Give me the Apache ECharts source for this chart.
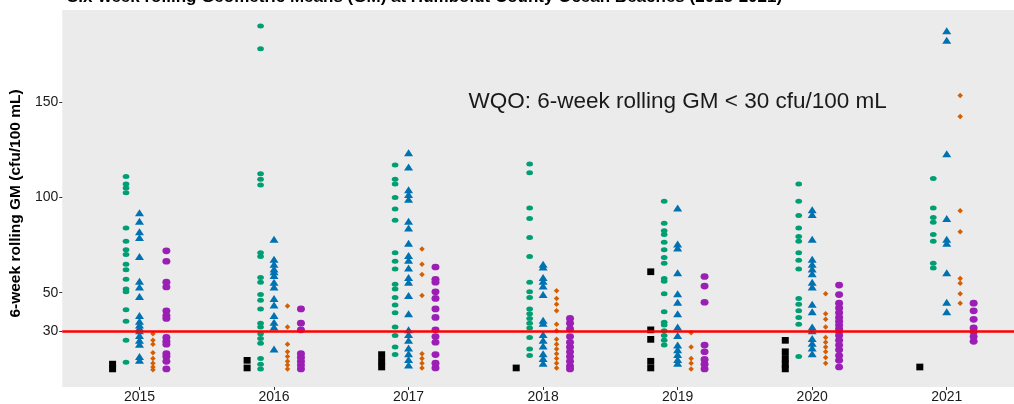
<!DOCTYPE html>
<html>
<head>
<meta charset="utf-8">
<script src="https://cdn.jsdelivr.net/npm/echarts@6/dist/echarts.min.js"></script>
<style>html,body{margin:0;padding:0;background:#fff}#c{width:1014px;height:404px}</style>
</head>
<body>
<div id="c"></div>
<script>
// Categories (years) and tick labels
const years = ['2015', '2016', '2017', '2018', '2019', '2020', '2021'];
const yTicks = [30, 50, 100, 150];
const wqo = 30;
const annotation = 'WQO: 6-week rolling GM < 30 cfu/100 mL';
const titleText = 'Six-week rolling Geometric Means (GM) at Humboldt County Ocean Beaches (2015-2021)';

// 6-week rolling GM values per site, one list per year (2015..2021)
const siteBlack = [
  [10, 12.5],
  [14.5, 10.5],
  [17.5, 14, 11],
  [10.5],
  [61, 30.5, 25.5, 14, 10.5],
  [25, 19, 15.5, 12.5, 10],
  [11]
];
const siteGreen = [
  [111, 107, 105, 102.5, 84, 77, 72.5, 70, 65, 62, 57, 52, 50.5, 41, 35, 25, 13.5],
  [190, 178, 112.5, 109.5, 106.5, 71, 69, 58, 55.5, 49, 46, 41.5, 34, 32, 28.5, 26, 23.5, 15.5, 12.5, 10],
  [117, 109.5, 107, 100, 94, 88, 71, 66.5, 62.5, 54.5, 52, 47.5, 43.5, 39.5, 32, 27.5, 21.5, 17.5],
  [117.5, 113, 94.5, 89, 79, 69, 55.5, 50.5, 47.5, 41.5, 39, 36.5, 34, 31.5, 26.5, 20.5, 17],
  [98, 86.5, 82.5, 80.5, 76.5, 72.5, 68.5, 65.5, 57.5, 56, 49.5, 40, 34.5, 33, 30, 27.5, 25, 22.5],
  [107, 98, 90.5, 84, 79.5, 77, 71, 67, 62.5, 47, 44, 40.5, 37, 33.5, 16.5],
  [110, 94.5, 89.5, 87, 80.5, 77, 65.5, 63]
];
const siteBlue = [
  [92, 87.5, 82, 79, 69, 56, 53, 48, 38, 35, 33, 31.5, 30, 27.5, 25, 23, 16.5, 14.5],
  [78, 67.5, 65, 62.5, 61, 59, 55.5, 53, 47, 43.5, 38, 34.5, 32, 20.5],
  [123.5, 116, 104, 101.5, 99, 87.5, 84, 76, 69.5, 67, 63, 58, 55.5, 48.5, 39, 30.5, 28, 25, 21, 18, 15, 12],
  [65, 63.5, 58, 56, 53.5, 49, 35.5, 34, 28, 25, 22, 18, 15.5, 13],
  [94.5, 75.5, 73.5, 60.5, 49.5, 45, 39, 32, 27.5, 22.5, 20, 17.5, 15, 13],
  [93.5, 91, 78, 67.5, 65, 62.5, 60, 55.5, 53, 44, 40, 32, 30, 26, 23.5, 21, 18],
  [187.5, 182.5, 123, 89, 78, 76, 60.5, 45, 40]
];
const siteOrange = [
  [28.5, 25, 23, 18.5, 15.5, 13, 11, 9.5],
  [43, 32, 23, 19, 16.5, 14, 12, 10],
  [73, 65, 59.5, 48.5, 18, 15.5, 13, 10.5],
  [51, 47, 44, 40.5, 33.5, 30, 25.5, 23, 20.5, 18, 15.5, 13, 10.5],
  [29, 21.5, 15.5, 13, 10],
  [49.5, 39, 36, 32, 26.5, 24, 21.5, 19, 16, 13],
  [153.5, 142.5, 93, 82, 57.5, 55, 49.5, 44.5]
];
const sitePurple = [
  [72, 66.5, 55.5, 53, 40.5, 38, 36.5, 26.5, 24.5, 23, 18, 16.5, 14, 10],
  [41.5, 34, 30.5, 18, 16, 14, 12, 10],
  [63.5, 57, 55.5, 50.5, 47, 41.5, 37, 30.5, 27, 24, 17.5, 13, 10.5],
  [36.5, 34, 31, 27, 24, 21.5, 19, 16.5, 14, 11.5, 10],
  [58.5, 53.5, 45, 22.5, 19, 15, 12.5, 10],
  [54, 49, 44.5, 42, 39.5, 37, 35, 33, 31, 29.5, 27.5, 25, 22.5, 20, 17, 14.5, 11],
  [44.5, 40.5, 36, 31.5, 29.5, 27, 24.5]
];

const sites = [
  { name: 'Site 1', data: siteBlack, color: '#000000', symbol: 'rect', size: [7, 6.7] },
  { name: 'Site 2', data: siteGreen, color: '#009E73', symbol: 'circle', size: [6.7, 5] },
  { name: 'Site 3', data: siteBlue, color: '#0072B2', symbol: 'triangle', size: [9, 7] },
  { name: 'Site 4', data: siteOrange, color: '#D55E00', symbol: 'diamond', size: [5.5, 5.5] },
  { name: 'Site 5', data: sitePurple, color: '#9B1FB5', symbol: 'circle', size: [8, 6.7] }
];
const dodge = 0.1;

const series = sites.map((s, k) => ({
  name: s.name,
  type: 'scatter',
  symbol: s.symbol,
  symbolSize: s.size,
  itemStyle: { color: s.color, opacity: 1 },
  data: s.data.flatMap((vals, yi) => vals.map(v => [yi + 1 + (k - 2) * dodge, v])),
  z: 2
}));

series.push({
  type: 'scatter',
  data: [],
  z: 5,
  silent: true,
  markLine: {
    silent: true,
    symbol: 'none',
    label: { show: false },
    lineStyle: { color: '#FF0000', width: 2.6, type: 'solid' },
    data: [{ yAxis: wqo }]
  },
  markPoint: {
    silent: true,
    symbol: 'rect',
    symbolSize: 0,
    label: {
      show: true,
      formatter: annotation,
      fontSize: 22.5,
      color: '#1a1a1a',
      fontFamily: 'Liberation Sans, Arial, sans-serif',
      position: 'inside'
    },
    data: [{ coord: [5, 150] }]
  }
});

const chart = echarts.init(document.getElementById('c'), null, { renderer: 'canvas' });
chart.setOption({
  animation: false,
  backgroundColor: '#ffffff',
  textStyle: { fontFamily: 'Liberation Sans, Arial, sans-serif' },
  title: {
    text: titleText,
    left: 62,
    top: -16,
    textStyle: { fontSize: 17, fontWeight: 'bold', color: '#000', fontFamily: 'Liberation Sans, Arial, sans-serif' }
  },
  grid: {
    left: 62, right: 0, top: 10, bottom: 14,
    show: true, backgroundColor: '#EBEBEB', borderWidth: 0,
    containLabel: false
  },
  xAxis: {
    type: 'value',
    min: 0.426,
    max: 7.5,
    axisLine: { show: false },
    splitLine: { show: false },
    axisTick: { show: true, customValues: years.map((y, i) => i + 1), length: 3, lineStyle: { color: '#333' } },
    axisLabel: {
      customValues: years.map((y, i) => i + 1),
      formatter: v => years[Math.round(v) - 1],
      fontSize: 14, color: '#1a1a1a', margin: 3
    }
  },
  yAxis: {
    type: 'value',
    min: 0.5,
    max: 198.4,
    name: '6-week rolling GM (cfu/100 mL)',
    nameLocation: 'middle',
    nameGap: 34,
    nameTextStyle: { fontSize: 15.5, fontWeight: 'bold', color: '#000', padding: [0, 10, 0, 0] },
    axisLine: { show: false },
    splitLine: { show: false },
    axisTick: { show: true, customValues: yTicks, length: 3, lineStyle: { color: '#333' } },
    axisLabel: { customValues: yTicks, fontSize: 14, color: '#1a1a1a', margin: 4 }
  },
  series: series
});
</script>
</body>
</html>
